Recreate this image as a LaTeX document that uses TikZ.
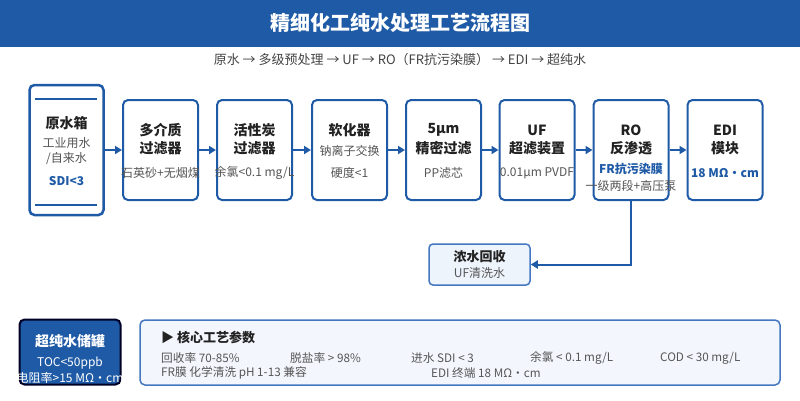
\documentclass[tikz,border=0pt]{standalone}
\usepackage{fontspec}
\setmainfont{Noto Sans CJK SC}
\usetikzlibrary{arrows.meta}
\definecolor{hblue}{HTML}{1F5AA6}
\definecolor{dtext}{HTML}{222222}
\definecolor{gtext}{HTML}{555555}
\definecolor{lfill}{HTML}{EEF4FC}
\definecolor{lborder}{HTML}{4477C0}
\tikzset{
  stepbox/.style={draw=hblue, line width=2pt, rounded corners=5pt, fill=white, minimum width=75pt, minimum height=100pt, inner sep=0pt},
  ttl/.style={font=\fontsize{14}{16}\selectfont\bfseries, text=dtext, inner sep=0pt},
  sub/.style={font=\fontsize{12}{14}\selectfont, text=gtext, inner sep=0pt},
  bsub/.style={font=\fontsize{12}{14}\selectfont\bfseries, text=hblue, inner sep=0pt},
  arr/.style={draw=hblue, line width=2pt, -{Triangle[length=7pt,width=8pt]}},
  prm/.style={font=\fontsize{11.7}{14}\selectfont, text=gtext, anchor=west, inner sep=0pt},
}
\begin{document}
\begin{tikzpicture}[x=1pt,y=-1pt]
\useasboundingbox (0,0) rectangle (800,400);
\fill[white] (0,0) rectangle (800,400);
% header
\fill[hblue] (0,0) rectangle (800,47);
\node[font=\fontsize{20}{23}\selectfont\bfseries, text=white, inner sep=0pt] (title) at (400,23) {精细化工纯水处理工艺流程图};
\node[font=\fontsize{13}{15}\selectfont, text=gtext!80!black, inner sep=0pt] (subtitle) at (400,60) {原水 → 多级预处理 → UF → RO（FR抗污染膜） → EDI → 超纯水};
% raw water tank
\node[draw=hblue, line width=2.5pt, rounded corners=5pt, fill=white, minimum width=74pt, minimum height=130pt, inner sep=0pt] (tank) at (66.5,150) {};
\draw[hblue, line width=2pt] (35,99) coordinate (tl1) -- (97,99) coordinate (tl2);
\draw[hblue, line width=2pt] (35,205) coordinate (bl1) -- (97,205) coordinate (bl2);
\node[ttl] (t0a) at (66.5,123) {原水箱};
\node[sub] (t0b) at (66.5,143) {工业用水};
\node[sub] (t0c) at (66.5,159) {/自来水};
\node[bsub] (t0d) at (66.5,181) {SDI<3};
% step boxes
\node[stepbox] (b1) at (160.5,150) {};
\node[stepbox] (b2) at (254.5,150) {};
\node[stepbox] (b3) at (349.5,150) {};
\node[stepbox] (b4) at (443.5,150) {};
\node[stepbox] (b5) at (537,150) {};
\node[stepbox] (b6) at (631,150) {};
\node[stepbox] (b7) at (725,150) {};
% texts
\node[ttl] (t1a) at (160.5,130) {多介质};
\node[ttl] (t1b) at (160.5,148) {过滤器};
\node[sub] (t1c) at (160.5,173) {石英砂+无烟煤};
\node[ttl] (t2a) at (254.5,130) {活性炭};
\node[ttl] (t2b) at (254.5,148) {过滤器};
\node[sub] (t2c) at (254.5,173) {余氯<0.1 mg/L};
\node[ttl] (t3a) at (349.5,130) {软化器};
\node[sub] (t3b) at (349.5,151) {钠离子交换};
\node[sub] (t3c) at (349.5,173) {硬度<1};
\node[ttl] (t4a) at (443.5,130) {5μm};
\node[ttl] (t4b) at (443.5,148) {精密过滤};
\node[sub] (t4c) at (443.5,173) {PP滤芯};
\node[ttl] (t5a) at (537,130) {UF};
\node[ttl] (t5b) at (537,148) {超滤装置};
\node[sub] (t5c) at (537,173) {0.01μm PVDF};
\node[ttl] (t6a) at (631,130) {RO};
\node[ttl] (t6b) at (631,148) {反渗透};
\node[bsub] (t6c) at (631,169) {FR抗污染膜};
\node[sub] (t6d) at (631,186) {一级两段+高压泵};
\node[ttl] (t7a) at (725,130) {EDI};
\node[ttl] (t7b) at (725,148) {模块};
\node[bsub] (t7c) at (725,173) {18 MΩ・cm};
% arrows
\draw[arr] (tank.east) -- (b1.west);
\draw[arr] (b1.east) -- (b2.west);
\draw[arr] (b2.east) -- (b3.west);
\draw[arr] (b3.east) -- (b4.west);
\draw[arr] (b4.east) -- (b5.west);
\draw[arr] (b5.east) -- (b6.west);
\draw[arr] (b6.east) -- (b7.west);
% concentrate
\node[draw=lborder, line width=1.5pt, rounded corners=4pt, fill=lfill, minimum width=101pt, minimum height=41pt, inner sep=0pt] (conc) at (479.5,264.5) {};
\node[ttl, font=\fontsize{13}{15}\selectfont\bfseries] (tca) at (479.5,257) {浓水回收};
\node[sub] (tcb) at (479.5,273) {UF清洗水};
\draw[arr] (b6.south) |- (conc.east);
% ultra pure tank
\node[draw=black!85!blue, line width=2pt, rounded corners=5pt, fill=hblue, minimum width=101pt, minimum height=65pt, inner sep=0pt] (upt) at (70,352) {};
\node[font=\fontsize{14}{16}\selectfont\bfseries, text=white, inner sep=0pt] (tua) at (70,341) {超纯水储罐};
\node[font=\fontsize{12}{14}\selectfont, text=white, inner sep=0pt] (tub) at (70,363) {TOC<50ppb};
\node[font=\fontsize{12}{14}\selectfont, text=white, inner sep=0pt] (tuc) at (70,378) {电阻率>15 MΩ・cm};
% params
\node[draw=lborder, line width=1.5pt, rounded corners=5pt, fill=lfill!70!white, minimum width=640pt, minimum height=65pt, inner sep=0pt] (params) at (460,352.5) {};
\node[font=\fontsize{13}{15}\selectfont\bfseries, text=dtext, anchor=west, inner sep=0pt] (ptitle) at (161,337) {▶ 核心工艺参数};
\node[prm] (p1) at (161,358) {回收率 70-85\%};
\node[prm] (p2) at (290,358) {脱盐率 > 98\%};
\node[prm] (p3) at (411,358) {进水 SDI < 3};
\node[prm] (p4) at (530,358) {余氯 < 0.1 mg/L};
\node[prm] (p5) at (660,358) {COD < 30 mg/L};
\node[prm] (p6) at (161,373) {FR膜 化学清洗 pH 1-13 兼容};
\node[prm] (p7) at (431,373) {EDI 终端 18 MΩ・cm};
\end{tikzpicture}
\end{document}
